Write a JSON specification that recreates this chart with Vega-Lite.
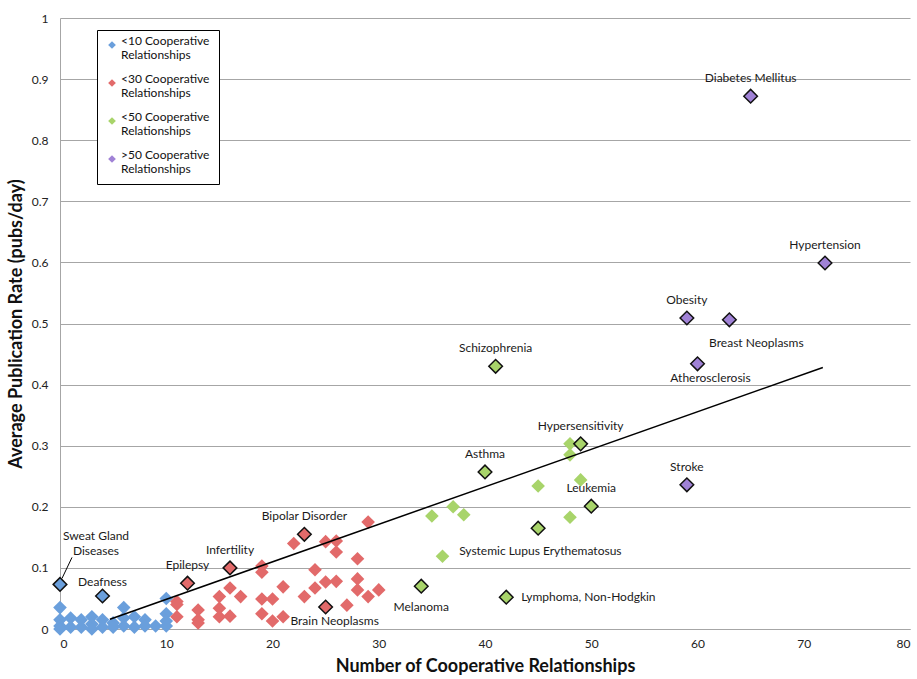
{
  "$schema": "https://vega.github.io/schema/vega-lite/v6.json",
  "autosize": "none",
  "width": 850,
  "height": 611,
  "padding": {"left": 60, "top": 18, "right": 7, "bottom": 50},
  "background": "white",
  "config": {
    "font": "Lato",
    "view": {"stroke": null},
    "axis": {"labelFont": "Lato", "titleFont": "Lato", "labelColor": "#222", "titleColor": "#111", "ticks": false, "domainColor": "#A6A6A6", "gridColor": "#A6A6A6", "labelFontSize": 12},
    "text": {"font": "Lato", "fontSize": 12, "color": "#1a1a1a"}
  },
  "datasets": {
    "pts": [
      {"x": 0, "y": 0.035, "group": "<10 Cooperative Relationships"},
      {"x": 0, "y": 0.015, "group": "<10 Cooperative Relationships"},
      {"x": 0, "y": 0.005, "group": "<10 Cooperative Relationships"},
      {"x": 1, "y": 0.018, "group": "<10 Cooperative Relationships"},
      {"x": 1, "y": 0.003, "group": "<10 Cooperative Relationships"},
      {"x": 2, "y": 0.015, "group": "<10 Cooperative Relationships"},
      {"x": 2, "y": 0.003, "group": "<10 Cooperative Relationships"},
      {"x": 3, "y": 0.02, "group": "<10 Cooperative Relationships"},
      {"x": 3, "y": 0.008, "group": "<10 Cooperative Relationships"},
      {"x": 3, "y": 0.0, "group": "<10 Cooperative Relationships"},
      {"x": 4, "y": 0.015, "group": "<10 Cooperative Relationships"},
      {"x": 4, "y": 0.003, "group": "<10 Cooperative Relationships"},
      {"x": 5, "y": 0.01, "group": "<10 Cooperative Relationships"},
      {"x": 5, "y": 0.003, "group": "<10 Cooperative Relationships"},
      {"x": 6, "y": 0.035, "group": "<10 Cooperative Relationships"},
      {"x": 6, "y": 0.018, "group": "<10 Cooperative Relationships"},
      {"x": 6, "y": 0.005, "group": "<10 Cooperative Relationships"},
      {"x": 7, "y": 0.02, "group": "<10 Cooperative Relationships"},
      {"x": 7, "y": 0.003, "group": "<10 Cooperative Relationships"},
      {"x": 8, "y": 0.015, "group": "<10 Cooperative Relationships"},
      {"x": 8, "y": 0.005, "group": "<10 Cooperative Relationships"},
      {"x": 9, "y": 0.005, "group": "<10 Cooperative Relationships"},
      {"x": 10, "y": 0.05, "group": "<10 Cooperative Relationships"},
      {"x": 10, "y": 0.025, "group": "<10 Cooperative Relationships"},
      {"x": 10, "y": 0.013, "group": "<10 Cooperative Relationships"},
      {"x": 10, "y": 0.005, "group": "<10 Cooperative Relationships"},
      {"x": 0, "y": 0.0, "group": "<10 Cooperative Relationships", "label": ""},
      {"x": 0, "y": 0.073, "group": "<10 Cooperative Relationships", "label": "Sweat Gland Diseases"},
      {"x": 4, "y": 0.054, "group": "<10 Cooperative Relationships", "label": "Deafness"},
      {"x": 11, "y": 0.045, "group": "<30 Cooperative Relationships"},
      {"x": 11, "y": 0.04, "group": "<30 Cooperative Relationships"},
      {"x": 11, "y": 0.02, "group": "<30 Cooperative Relationships"},
      {"x": 13, "y": 0.031, "group": "<30 Cooperative Relationships"},
      {"x": 13, "y": 0.015, "group": "<30 Cooperative Relationships"},
      {"x": 13, "y": 0.01, "group": "<30 Cooperative Relationships"},
      {"x": 15, "y": 0.053, "group": "<30 Cooperative Relationships"},
      {"x": 15, "y": 0.034, "group": "<30 Cooperative Relationships"},
      {"x": 15, "y": 0.02, "group": "<30 Cooperative Relationships"},
      {"x": 16, "y": 0.067, "group": "<30 Cooperative Relationships"},
      {"x": 16, "y": 0.021, "group": "<30 Cooperative Relationships"},
      {"x": 17, "y": 0.053, "group": "<30 Cooperative Relationships"},
      {"x": 19, "y": 0.103, "group": "<30 Cooperative Relationships"},
      {"x": 19, "y": 0.093, "group": "<30 Cooperative Relationships"},
      {"x": 19, "y": 0.049, "group": "<30 Cooperative Relationships"},
      {"x": 19, "y": 0.025, "group": "<30 Cooperative Relationships"},
      {"x": 20, "y": 0.049, "group": "<30 Cooperative Relationships"},
      {"x": 20, "y": 0.013, "group": "<30 Cooperative Relationships"},
      {"x": 21, "y": 0.069, "group": "<30 Cooperative Relationships"},
      {"x": 21, "y": 0.02, "group": "<30 Cooperative Relationships"},
      {"x": 22, "y": 0.14, "group": "<30 Cooperative Relationships"},
      {"x": 23, "y": 0.053, "group": "<30 Cooperative Relationships"},
      {"x": 24, "y": 0.097, "group": "<30 Cooperative Relationships"},
      {"x": 24, "y": 0.067, "group": "<30 Cooperative Relationships"},
      {"x": 25, "y": 0.143, "group": "<30 Cooperative Relationships"},
      {"x": 25, "y": 0.077, "group": "<30 Cooperative Relationships"},
      {"x": 26, "y": 0.144, "group": "<30 Cooperative Relationships"},
      {"x": 26, "y": 0.126, "group": "<30 Cooperative Relationships"},
      {"x": 26, "y": 0.078, "group": "<30 Cooperative Relationships"},
      {"x": 27, "y": 0.039, "group": "<30 Cooperative Relationships"},
      {"x": 28, "y": 0.115, "group": "<30 Cooperative Relationships"},
      {"x": 28, "y": 0.082, "group": "<30 Cooperative Relationships"},
      {"x": 28, "y": 0.064, "group": "<30 Cooperative Relationships"},
      {"x": 29, "y": 0.175, "group": "<30 Cooperative Relationships"},
      {"x": 29, "y": 0.053, "group": "<30 Cooperative Relationships"},
      {"x": 30, "y": 0.064, "group": "<30 Cooperative Relationships"},
      {"x": 12, "y": 0.075, "group": "<30 Cooperative Relationships", "label": "Epilepsy"},
      {"x": 16, "y": 0.1, "group": "<30 Cooperative Relationships", "label": "Infertility"},
      {"x": 23, "y": 0.155, "group": "<30 Cooperative Relationships", "label": "Bipolar Disorder"},
      {"x": 25, "y": 0.036, "group": "<30 Cooperative Relationships", "label": "Brain Neoplasms"},
      {"x": 35, "y": 0.185, "group": "<50 Cooperative Relationships"},
      {"x": 36, "y": 0.119, "group": "<50 Cooperative Relationships"},
      {"x": 37, "y": 0.2, "group": "<50 Cooperative Relationships"},
      {"x": 38, "y": 0.187, "group": "<50 Cooperative Relationships"},
      {"x": 45, "y": 0.234, "group": "<50 Cooperative Relationships"},
      {"x": 48, "y": 0.303, "group": "<50 Cooperative Relationships"},
      {"x": 48, "y": 0.285, "group": "<50 Cooperative Relationships"},
      {"x": 48, "y": 0.183, "group": "<50 Cooperative Relationships"},
      {"x": 49, "y": 0.244, "group": "<50 Cooperative Relationships"},
      {"x": 41, "y": 0.43, "group": "<50 Cooperative Relationships", "label": "Schizophrenia"},
      {"x": 49, "y": 0.303, "group": "<50 Cooperative Relationships", "label": "Hypersensitivity"},
      {"x": 40, "y": 0.257, "group": "<50 Cooperative Relationships", "label": "Asthma"},
      {"x": 50, "y": 0.201, "group": "<50 Cooperative Relationships", "label": "Leukemia"},
      {"x": 45, "y": 0.165, "group": "<50 Cooperative Relationships", "label": "Systemic Lupus Erythematosus"},
      {"x": 34, "y": 0.07, "group": "<50 Cooperative Relationships", "label": "Melanoma"},
      {"x": 42, "y": 0.052, "group": "<50 Cooperative Relationships", "label": "Lymphoma, Non-Hodgkin"},
      {"x": 65, "y": 0.872, "group": ">50 Cooperative Relationships", "label": "Diabetes Mellitus"},
      {"x": 72, "y": 0.599, "group": ">50 Cooperative Relationships", "label": "Hypertension"},
      {"x": 59, "y": 0.509, "group": ">50 Cooperative Relationships", "label": "Obesity"},
      {"x": 63, "y": 0.506, "group": ">50 Cooperative Relationships", "label": "Breast Neoplasms"},
      {"x": 60, "y": 0.434, "group": ">50 Cooperative Relationships", "label": "Atherosclerosis"},
      {"x": 59, "y": 0.236, "group": ">50 Cooperative Relationships", "label": "Stroke"}
    ],
    "trend": [
      {"x": 4.7, "y": 0.016},
      {"x": 71.8, "y": 0.428}
    ]
  },
  "encoding": {
    "x": {"field": "x", "type": "quantitative", "scale": {"domain": [0, 80], "nice": false},
      "axis": {"values": [0, 10, 20, 30, 40, 50, 60, 70, 80], "grid": false, "title": "Number of Cooperative Relationships", "titleFontSize": 18, "titleFontWeight": "bold", "titlePadding": 8, "labelPadding": 9}},
    "y": {"field": "y", "type": "quantitative", "scale": {"domain": [0, 1], "nice": false},
      "axis": {"values": [0, 0.1, 0.2, 0.3, 0.4, 0.5, 0.6, 0.7, 0.8, 0.9, 1], "format": ".1~f", "grid": true, "title": "Average Publication Rate (pubs/day)", "titleFontSize": 18, "titleFontWeight": "bold", "titlePadding": 6, "labelPadding": 12}}
  },
  "layer": [
    {
      "data": {"name": "pts"},
      "transform": [{"filter": "datum.label == null"}],
      "mark": {"type": "point", "shape": "diamond", "filled": true, "size": 185, "opacity": 1, "clip": false},
      "encoding": {
        "color": {"field": "group", "type": "nominal",
          "scale": {"domain": ["<10 Cooperative Relationships", "<30 Cooperative Relationships", "<50 Cooperative Relationships", ">50 Cooperative Relationships"], "range": ["#6A9FDC", "#E26A6A", "#A8D46A", "#A082D6"]},
          "legend": {"orient": "none", "legendX": 37, "legendY": 12, "title": null, "strokeColor": "#000", "fillColor": "#fff", "padding": 9, "symbolType": "diamond", "symbolSize": 60, "labelFontSize": 12, "labelFont": "Lato", "labelColor": "#111", "labelExpr": "[split(datum.label, ' Rel')[0], 'Rel' + split(datum.label, ' Rel')[1]]", "labelBaseline": "alphabetic", "labelOffset": 3, "rowPadding": 12, "labelLimit": 200}}
      }
    },
    {
      "data": {"name": "trend"},
      "mark": {"type": "line", "color": "#000", "strokeWidth": 1.5},
      "encoding": {}
    },
    {
      "data": {"name": "pts"},
      "transform": [{"filter": "datum.label != null"}],
      "mark": {"type": "point", "shape": "diamond", "filled": true, "size": 185, "opacity": 1, "stroke": "#111", "strokeWidth": 1.5, "clip": false},
      "encoding": {
        "color": {"field": "group", "type": "nominal"}
      }
    },
    {
      "data": {"name": "pts"},
      "transform": [{"filter": {"field": "label", "oneOf": ["Diabetes Mellitus", "Hypertension", "Obesity", "Stroke", "Schizophrenia", "Hypersensitivity", "Asthma", "Leukemia", "Bipolar Disorder", "Infertility", "Epilepsy"]}}],
      "mark": {"type": "text", "dy": -18},
      "encoding": {"text": {"field": "label"}}
    },
    {
      "data": {"name": "pts"},
      "transform": [{"filter": {"field": "label", "equal": "Deafness"}}],
      "mark": {"type": "text", "dy": -14},
      "encoding": {"text": {"field": "label"}}
    },
    {
      "data": {"name": "pts"},
      "transform": [{"filter": {"field": "label", "equal": "Breast Neoplasms"}}],
      "mark": {"type": "text", "dx": 27, "dy": 23},
      "encoding": {"text": {"field": "label"}}
    },
    {
      "data": {"name": "pts"},
      "transform": [{"filter": {"field": "label", "equal": "Atherosclerosis"}}],
      "mark": {"type": "text", "dx": 13, "dy": 14},
      "encoding": {"text": {"field": "label"}}
    },
    {
      "data": {"name": "pts"},
      "transform": [{"filter": {"field": "label", "equal": "Brain Neoplasms"}}],
      "mark": {"type": "text", "dx": 9, "dy": 14},
      "encoding": {"text": {"field": "label"}}
    },
    {
      "data": {"name": "pts"},
      "transform": [{"filter": {"field": "label", "equal": "Melanoma"}}],
      "mark": {"type": "text", "dy": 21},
      "encoding": {"text": {"field": "label"}}
    },
    {
      "data": {"name": "pts"},
      "transform": [{"filter": {"field": "label", "equal": "Lymphoma, Non-Hodgkin"}}],
      "mark": {"type": "text", "align": "left", "dx": 15},
      "encoding": {"text": {"field": "label"}}
    },
    {
      "data": {"name": "pts"},
      "transform": [{"filter": {"field": "label", "equal": "Systemic Lupus Erythematosus"}}],
      "mark": {"type": "text", "align": "left", "dx": -79, "dy": 23},
      "encoding": {"text": {"field": "label"}}
    },
    {
      "data": {"name": "pts"},
      "transform": [{"filter": {"field": "label", "equal": "Sweat Gland Diseases"}}],
      "mark": {"type": "text", "dx": 36, "dy": -48, "baseline": "middle", "lineHeight": 15},
      "encoding": {"text": {"value": ["Sweat Gland", "Diseases"]}}
    },
    {
      "data": {"name": "pts"},
      "transform": [{"filter": {"field": "label", "equal": "Sweat Gland Diseases"}}],
      "mark": {"type": "rule", "color": "#000", "strokeWidth": 1, "xOffset": 2, "yOffset": -6, "x2Offset": 12, "y2Offset": -27},
      "encoding": {"x2": {"field": "x"}, "y2": {"field": "y"}}
    }
  ]
}
